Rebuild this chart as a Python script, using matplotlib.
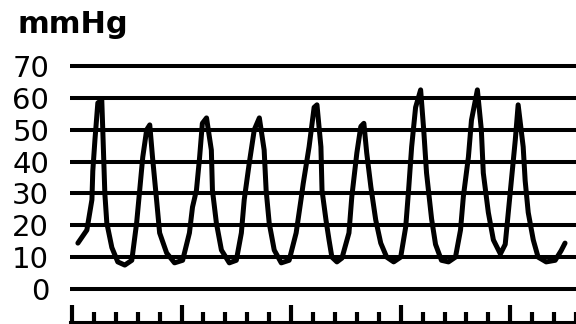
import numpy as np
import matplotlib
matplotlib.use("Agg")
import matplotlib.pyplot as plt

# pressure trace (x in tick units, y in mmHg)
t = [0.27, 0.68, 0.91, 0.95, 1.05, 1.18, 1.36, 1.41, 1.50, 1.59, 1.82, 2.09,
     2.41, 2.73, 2.95, 3.09, 3.23, 3.41, 3.55, 3.68, 3.86, 4.00, 4.32, 4.68,
     5.05, 5.36, 5.50, 5.68, 5.82, 5.95, 6.14, 6.36, 6.41, 6.59, 6.82, 7.18,
     7.50, 7.73, 7.86, 8.09, 8.32, 8.55, 8.77, 8.86, 9.00, 9.23, 9.55, 9.91,
     10.23, 10.45, 10.55, 10.82, 11.05, 11.18, 11.36, 11.41, 11.59, 11.73,
     11.86, 12.09, 12.32, 12.64, 12.77, 13.00, 13.18, 13.32, 13.45, 13.64,
     13.86, 14.09, 14.36, 14.68, 15.00, 15.23, 15.36, 15.50, 15.68, 15.91,
     16.05, 16.18, 16.41, 16.59, 16.86, 17.18, 17.50, 17.73, 17.86, 18.09,
     18.23, 18.50, 18.68, 18.77, 19.00, 19.23, 19.55, 19.77, 19.91, 20.05,
     20.23, 20.36, 20.59, 20.68, 20.82, 21.05, 21.27, 21.64, 22.05, 22.32,
     22.50]
p = [14.4, 18.5, 28, 37, 47, 58.4, 59.3, 49, 30, 20.7, 13, 8.5,
     7.5, 9, 20.7, 31, 41.4, 50, 51.5, 41, 28, 17.6, 11.3, 8.2,
     9, 17.6, 25.7, 31, 41, 52, 53.7, 43.6, 31, 20.7, 12.2, 8.2,
     9, 17.6, 28, 39.5, 50, 53.7, 43.6, 31, 20.7, 12.2, 8.2, 9,
     17.6, 28, 33, 44.6, 57, 57.8, 44.6, 31, 21.7, 15.4,
     10, 8.5, 9.7, 17.6, 29, 42.7, 51, 52, 42.7, 32,
     21.7, 14.4, 10, 8.5, 10, 19.5, 31, 44.6, 57, 62.5,
     50, 36.4, 22, 14, 9, 8.5, 10, 18.5, 29, 41.4,
     53, 62.5, 50, 36.4, 24, 15.4, 11, 14, 24, 34,
     46.8, 57.8, 44.6, 34, 24, 15.4, 10, 8.5, 9, 12,
     14.4]

levels = [0, 10, 20, 30, 40, 50, 60, 70]
level_labels = [str(v) for v in levels]

fig = plt.figure(figsize=(5.76, 3.24), dpi=100)
ax = fig.add_axes([70/576, 1.9/324, 506/576, 262.5/324])

for v in levels:
    ax.axhline(v, color='k', lw=2.9, zorder=1)

ax.plot(t, p, color='k', lw=3.6, solid_joinstyle='round',
        solid_capstyle='round', zorder=2)

ax.set_xlim(-0.09, 23.0)
ax.set_ylim(-10.4, 72)

ax.set_yticks(levels)
ax.set_yticklabels(level_labels, fontsize=21, family='DejaVu Sans')
ax.tick_params(axis='y', length=0, pad=15)

ax.set_xticks(np.arange(0, 24, 5))
ax.set_xticks(np.arange(0, 24, 1), minor=True)
ax.tick_params(axis='x', which='major', direction='in', length=12.5,
               width=3, labelbottom=False)
ax.tick_params(axis='x', which='minor', direction='in', length=7.5,
               width=3, labelbottom=False)

for s in ['left', 'right', 'top']:
    ax.spines[s].set_visible(False)
ax.spines['bottom'].set_linewidth(2.2)

fig.text(17/576, 1 - 33/324, "mmHg", fontsize=22, fontweight='bold',
         family='DejaVu Sans', va='baseline', ha='left')

fig.savefig("out.png", dpi=100)
